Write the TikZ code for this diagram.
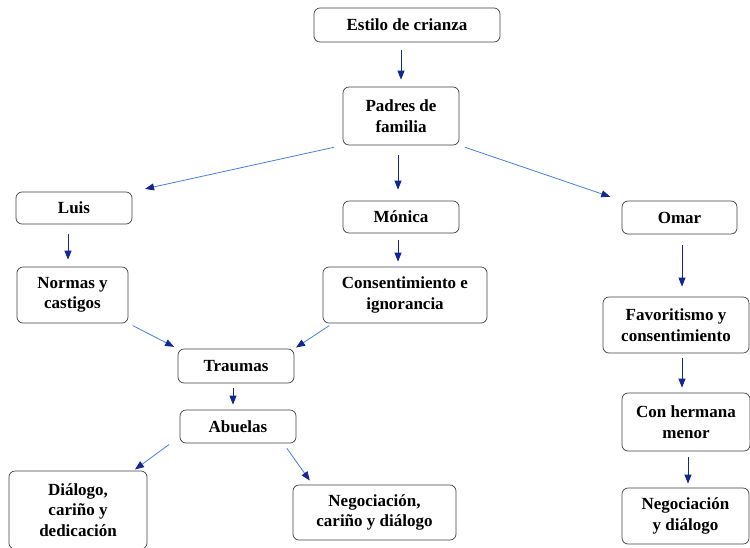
\documentclass[tikz,border=0pt]{standalone}
\usepackage{fontspec}
\setmainfont{Liberation Serif}
\usepackage{tikz}
\usetikzlibrary{arrows.meta}
\definecolor{azulosc}{RGB}{18,38,150}
\definecolor{azulcla}{RGB}{70,125,235}
\tikzset{
  caja/.style={draw=black!75,rounded corners=6pt,line width=0.7pt,align=center,
    inner sep=0pt,font=\fontsize{17}{20.5}\selectfont\bfseries},
  flecha/.style={->,draw=azulosc,line width=0.9pt},
  diag/.style={->,draw=azulcla,line width=0.8pt}
}
\begin{document}
\begin{tikzpicture}[x=1pt,y=-1pt,>={Triangle[length=9pt,width=7pt,color=azulosc]}]
        \useasboundingbox (0,0) rectangle (750,547);
        \clip (0,0) rectangle (750,547);
        % nivel superior
        \node[caja,minimum width=186pt,minimum height=34pt] (estilo) at (407,25) {Estilo de crianza};
        \node[caja,minimum width=116pt,minimum height=58pt] (padres) at (401,116) {Padres de\\familia};
        % hijos
        \node[caja,minimum width=116pt,minimum height=32pt] (luis) at (74,208) {Luis};
        \node[caja,minimum width=116pt,minimum height=32pt] (monica) at (401,217) {Mónica};
        \node[caja,minimum width=115pt,minimum height=33pt] (omar) at (679.5,217.5) {Omar};
        \node[caja,minimum width=111pt,minimum height=56pt] (normas) at (72.5,295) {Normas y\\castigos};
        \node[caja,minimum width=164pt,minimum height=56pt] (consent) at (405,295) {Consentimiento e\\ignorancia};
        \node[caja,minimum width=116pt,minimum height=34pt] (traumas) at (236,366) {Traumas};
        \node[caja,minimum width=116pt,minimum height=33pt] (abuelas) at (238,426.5) {Abuelas};
        \node[caja,minimum width=138pt,minimum height=78pt] (dialogo) at (78,510) {Diálogo,\\cariño y\\dedicación};
        \node[caja,minimum width=163pt,minimum height=55pt] (negoca) at (374.5,512.5) {Negociación,\\cariño y diálogo};
        \node[caja,minimum width=146pt,minimum height=56pt] (favor) at (676,325) {Favoritismo y\\consentimiento};
        \node[caja,minimum width=128pt,minimum height=58pt] (herm) at (686,422) {Con hermana\\menor};
        \node[caja,minimum width=127pt,minimum height=56pt] (negocb) at (685.5,516) {Negociación\\y diálogo};
        % flechas verticales
        \draw[flecha,shorten <=8pt,shorten >=7pt] (estilo.south -| padres) -- (padres.north);
        \draw[flecha,shorten <=10pt,shorten >=11pt] ([xshift=-3pt]padres.south) -- ([xshift=-3pt]monica.north);
        \draw[flecha,shorten <=10pt,shorten >=7pt] ([xshift=-6pt]luis.south) -- ([xshift=-6pt]luis.south |- normas.north);
        \draw[flecha,shorten <=7pt,shorten >=5pt] ([xshift=-3pt]monica.south) -- ([xshift=-3pt]monica.south |- consent.north);
        \draw[flecha,shorten <=11pt,shorten >=10pt] ([xshift=2.5pt]omar.south) -- ([xshift=2.5pt]omar.south |- favor.north);
        \draw[flecha,shorten <=5pt,shorten >=5pt] ([xshift=-3pt]traumas.south) -- ([xshift=-3pt]traumas.south |- abuelas.north);
        \draw[flecha,shorten <=5pt,shorten >=5pt] ([xshift=6pt]favor.south) -- ([xshift=6pt]favor.south |- herm.north);
        \draw[flecha,shorten <=6pt,shorten >=4pt] ([xshift=2pt]herm.south) -- ([xshift=2pt]herm.south |- negocb.north);
        % flechas diagonales
        \draw[diag,shorten <=9pt,shorten >=13pt] (padres.south west) -- (luis.north east);
        \draw[diag,shorten <=6pt,shorten >=12pt] (padres.south east) -- (omar.north west);
        \draw[diag,shorten <=5pt,shorten >=4pt] (normas.south east) -- (traumas.north west);
        \draw[diag,shorten <=4pt,shorten >=2pt] ([xshift=10pt]consent.south west) -- (traumas.north east);
        \draw[diag,shorten <=2pt,shorten >=2pt] ([xshift=-9pt]abuelas.south west) -- ([xshift=-14pt]dialogo.north east);
        \draw[diag,shorten <=6pt,shorten >=5pt] ([xshift=-13pt]abuelas.south east) -- ([xshift=20pt]negoca.north west);
\end{tikzpicture}
\end{document}
